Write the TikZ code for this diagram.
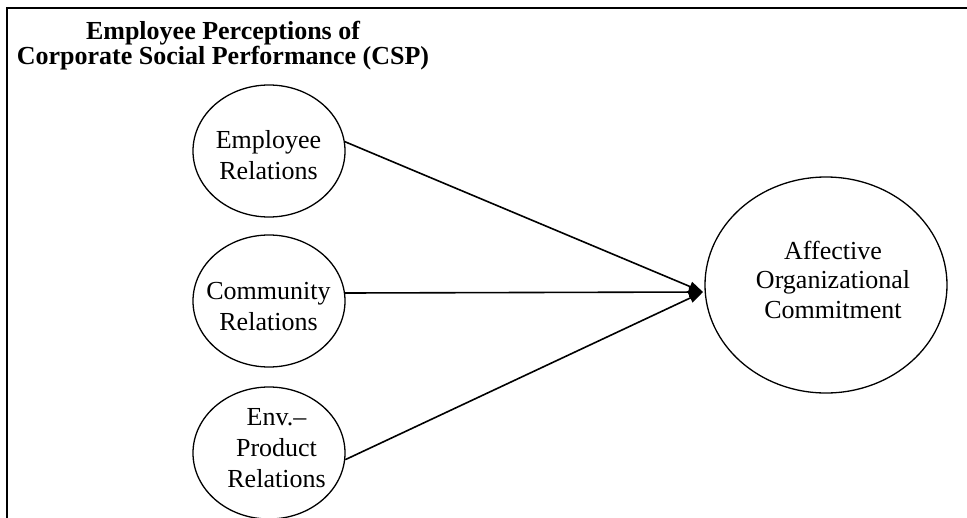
\documentclass[tikz,border=0pt]{standalone}
\usepackage{fontspec}
\setmainfont{Liberation Serif}
\usetikzlibrary{shapes.geometric,arrows.meta}
\tikzset{
  oval/.style={draw=black, line width=1.3pt, ellipse, inner sep=0pt},
  smalloval/.style={oval, minimum width=152pt, minimum height=132pt},
  ovaltext/.style={align=center, inner sep=0pt, font=\fontsize{26}{31}\selectfont},
  titletext/.style={align=center, inner sep=0pt, font=\fontsize{26}{23}\selectfont\bfseries},
  link/.style={draw=black, line width=1.6pt, -{Triangle[length=14pt,width=10pt]}},
  frame/.style={draw=black, line width=2pt}
}
\begin{document}
\begin{tikzpicture}[x=1pt,y=-1pt]
\useasboundingbox (0,0) rectangle (967,517);
\clip (0,0) rectangle (967,517);
\draw[frame] (7,8) rectangle (980,530);

\node[titletext] (title) at (223,45.4) {Employee Perceptions of\\Corporate Social Performance (CSP)};

\node[smalloval] (emp) at (269,151) {};
\node[smalloval] (com) at (269,301) {};
\node[smalloval] (env) at (269,453) {};
\node[oval, minimum width=242pt, minimum height=216pt] (aff) at (826,285) {};

\node[ovaltext] (emptext) at (268.5,155.6) {Employee\\Relations};
\node[ovaltext] (comtext) at (268.5,306.7) {Community\\Relations};
\node[ovaltext] (envtext) at (276.5,447.7) {Env.–\\Product\\Relations};
\node[ovaltext, font=\fontsize{26}{29.5}\selectfont] (afftext) at (833,279.6) {Affective\\Organizational\\Commitment};

\coordinate (tip) at (703,292);
\draw[link] (emp.7) -- (tip);
\draw[link] (com.6) -- (tip);
\draw[link] (env.-5) -- (tip);
\end{tikzpicture}
\end{document}
